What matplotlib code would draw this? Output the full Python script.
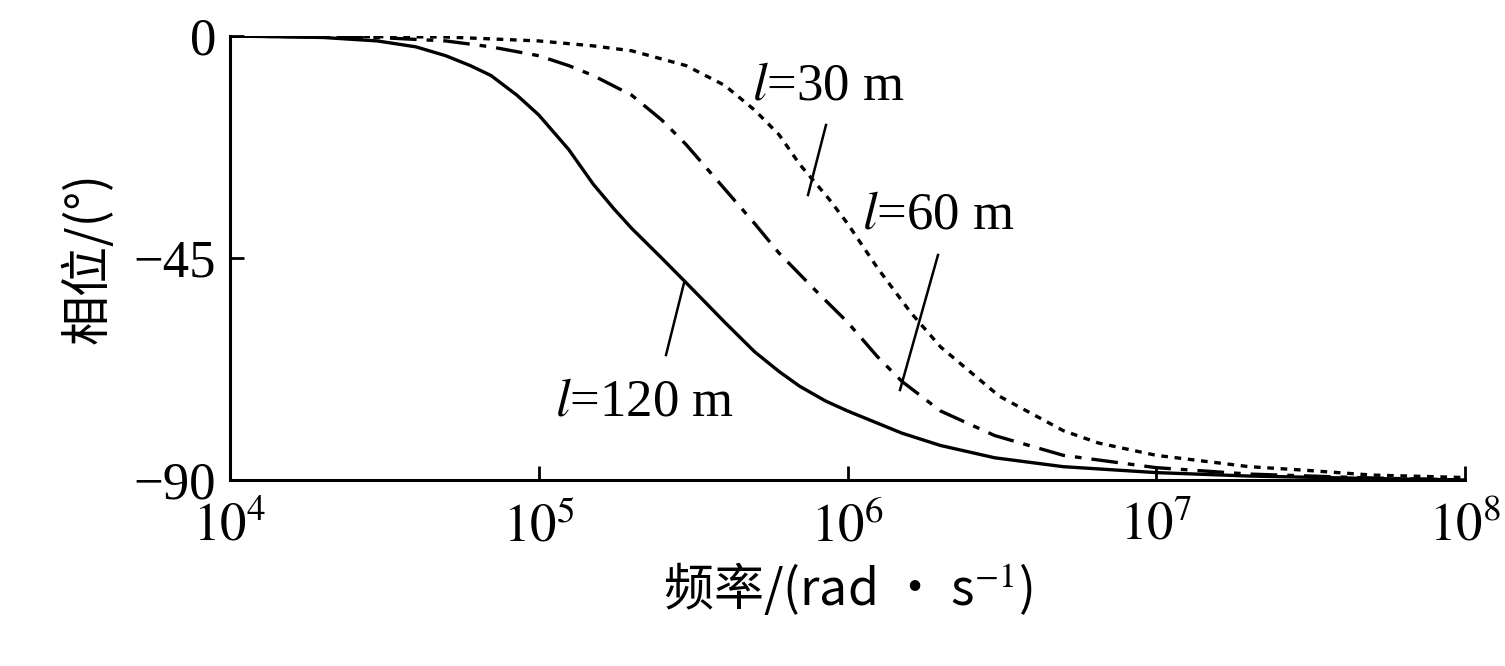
import matplotlib
matplotlib.use("Agg")
import matplotlib.pyplot as plt

freq120 = [1e4, 2e4, 3e4, 4e4, 5e4, 6e4, 7e4, 8.5e4, 1e5, 1.25e5, 1.5e5, 1.75e5, 2e5, 2.5e5, 3e5, 4e5, 5e5, 6e5, 7e5, 8.5e5, 1e6, 1.5e6, 2e6, 3e6, 5e6, 1e7, 2e7, 5e7, 1e8]
phase120 = [0, -0.3, -1, -2.2, -4, -6, -8, -12, -16, -23, -30, -35, -39, -45, -50, -58, -64, -68, -71, -74, -76, -80.5, -83, -85.5, -87.3, -88.5, -89.2, -89.7, -90]
freq60 = [1e4, 3e4, 5e4, 7e4, 1e5, 1.25e5, 1.5e5, 2e5, 2.5e5, 3e5, 4e5, 5e5, 6e5, 8e5, 1e6, 1.25e6, 1.5e6, 2e6, 3e6, 5e6, 1e7, 2e7, 5e7, 1e8]
phase60 = [0, -0.3, -1, -2.2, -4, -6, -8, -12, -17, -22, -31, -38, -44, -52, -58, -65, -70, -76, -81, -85, -87.5, -88.8, -89.6, -90]
freq30 = [1e4, 5e4, 1e5, 1.5e5, 2e5, 3e5, 4e5, 5e5, 6e5, 7e5, 8.7e5, 1e6, 1.25e6, 1.6e6, 2e6, 3.1e6, 5e6, 6.5e6, 1e7, 2e7, 3e7, 5e7, 1e8]
phase30 = [0, -0.2, -1, -2, -3, -6, -10, -15, -20, -26, -33, -38, -47, -56, -63, -73, -80, -82.5, -85, -87.3, -88, -89, -89.5]

serif = ['Liberation Serif', 'Noto Sans CJK SC']
cjk = ['Noto Sans CJK SC', 'Liberation Serif']
plt.rcParams['font.family'] = serif
plt.rcParams['mathtext.fontset'] = 'stix'

fig = plt.figure(figsize=(15.05, 6.66), dpi=100)
ax = fig.add_axes([230/1505, 1-480/666, (1465-230)/1505, (480-36)/666])
ax.plot(freq120, phase120, 'k-', lw=2.4)
ax.plot(freq60, phase60, 'k', lw=2.4, ls=(0, (8, 3, 2, 3)))
ax.plot(freq30, phase30, 'k', lw=2.4, ls=(0, (2, 2)))
ax.set_xscale('log')
ax.set_xlim(1e4, 1e8)
ax.set_ylim(-90, 0)
ax.set_yticks([0, -45, -90])
ax.set_yticklabels(['0', '\u221245', '\u221290'])
ax.set_xticks([1e4, 1e5, 1e6, 1e7, 1e8])
ax.set_xticklabels([r'$10^{4}$', r'$10^{5}$', r'$10^{6}$', r'$10^{7}$', r'$10^{8}$'])
ax.minorticks_off()
for s in ['top', 'right']:
    ax.spines[s].set_visible(False)
for s in ['left', 'bottom']:
    ax.spines[s].set_linewidth(2.2)
ax.tick_params(direction='in', length=10, width=2, labelsize=38, pad=10)
ax.tick_params(axis='x', pad=16)
ax.set_xlabel('频率/(rad · s$^{-1}$)', fontsize=36, family=cjk, labelpad=6)
ax.set_ylabel('相位/(°)', fontsize=36, family=cjk, labelpad=14)

def px(x, y):
    return (x/1505, 1 - y/666)

fs = 38
fig.text(*px(752, 100), r'$\mathit{l}$=30 m', fontsize=fs, va='baseline')
fig.text(*px(862, 228), r'$\mathit{l}$=60 m', fontsize=fs, va='baseline')
fig.text(*px(555, 416), r'$\mathit{l}$=120 m', fontsize=fs, va='baseline')
for (x1, y1, x2, y2) in [(808, 195, 826, 125), (900, 390, 938, 255), (666, 355, 684, 283)]:
    fig.add_artist(plt.Line2D([x1/1505, x2/1505], [1-y1/666, 1-y2/666], color='k', lw=1.8, transform=fig.transFigure))

fig.savefig('out.png', dpi=100)
